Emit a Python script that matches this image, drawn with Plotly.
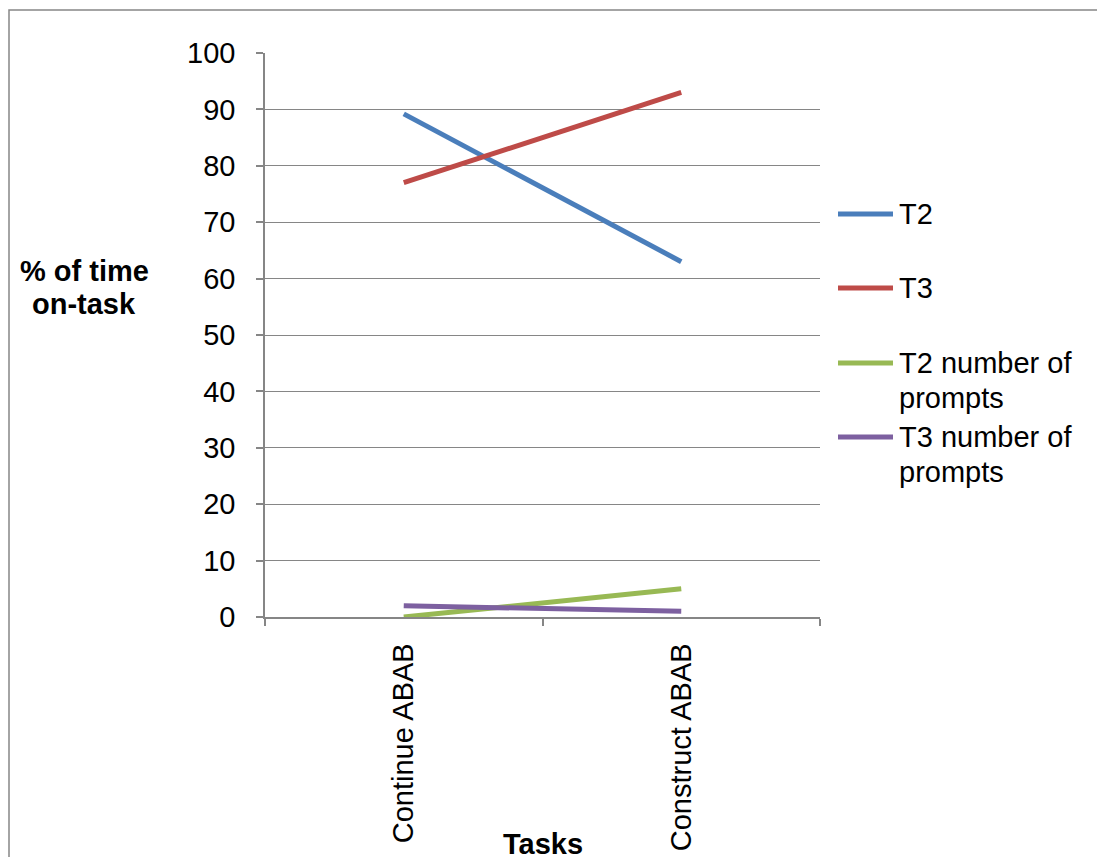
import plotly.graph_objects as go

# Categories and series values (% of time on-task / number of prompts)
tasks = ["Continue ABAB", "Construct ABAB"]
series_names = ["T2", "T3", "T2 number of<br>prompts", "T3 number of<br>prompts"]
t2 = [89.2, 63]
t3 = [77, 93]
t2_prompts = [0, 5]
t3_prompts = [2, 1]
y_ticks = [0, 10, 20, 30, 40, 50, 60, 70, 80, 90, 100]

colors = ["#4A7EBB", "#BE4B48", "#98B954", "#7D60A0"]
values = [t2, t3, t2_prompts, t3_prompts]

W, H = 1097, 857
L, R, T, B = 265, 277, 53, 240
pw, ph = W - L - R, H - T - B


def px_x(p):
    return (p - L) / pw


def px_y(p):
    return (H - B - p) / ph


FONT = "Liberation Sans, Arial, sans-serif"
FS = 29
GRID = "#868686"
LW = 5

fig = go.Figure()
for name, vals, c in zip(series_names, values, colors):
    fig.add_trace(go.Scatter(
        x=tasks, y=vals, name=name.replace("<br>", " "), mode="lines",
        line=dict(color=c, width=LW), showlegend=False,
    ))

fig.update_layout(
    width=W, height=H,
    margin=dict(l=L, r=R, t=T, b=B, pad=0, autoexpand=False),
    paper_bgcolor="white", plot_bgcolor="white",
    font=dict(family=FONT, size=FS, color="black"),
    showlegend=False,
    xaxis=dict(
        range=[-0.5, 1.5], tickson="boundaries", ticks="outside", ticklen=7,
        tickcolor=GRID, tickwidth=1.5, showline=True, linecolor=GRID,
        linewidth=1.5, showgrid=False, tickangle=-90, zeroline=False,
        ticklabelstandoff=13, automargin=False,
    ),
    yaxis=dict(
        range=[0, 100], tickvals=y_ticks, ticks="outside", ticklen=7,
        tickcolor=GRID, tickwidth=1.5, showline=True, linecolor=GRID,
        linewidth=1.5, showgrid=True, gridcolor=GRID, gridwidth=1.3,
        zeroline=False, ticklabelstandoff=15, automargin=False,
    ),
)

# Chart border
fig.add_shape(type="rect", xref="paper", yref="paper",
              x0=px_x(9), x1=px_x(1110), y0=px_y(10), y1=px_y(870),
              line=dict(color=GRID, width=1.5), fillcolor="rgba(0,0,0,0)",
              layer="below")


def text_lines(lines, x, y0, step, anchor, bold=False):
    for i, line in enumerate(lines):
        txt = f"<b>{line}</b>" if bold else line
        fig.add_annotation(text=txt, xref="paper", yref="paper",
                           x=px_x(x), y=px_y(y0 + i * step),
                           xanchor=anchor, yanchor="middle",
                           showarrow=False,
                           font=dict(family=FONT, size=FS, color="black"))


# Legend: key line plus label, one row per series
legend_rows = [214, 288, 363, 437]
for name, c, ly in zip(series_names, colors, legend_rows):
    fig.add_shape(type="line", xref="paper", yref="paper",
                  x0=px_x(838), x1=px_x(893), y0=px_y(ly), y1=px_y(ly),
                  line=dict(color=c, width=LW))
    text_lines(name.split("<br>"), 897, ly, 34.5, "left")

# Axis titles
text_lines(["% of time", "on-task"], 84, 271, 33, "center", bold=True)
text_lines(["Tasks"], 543, 844, 0, "center", bold=True)

fig.write_html("out.html")
